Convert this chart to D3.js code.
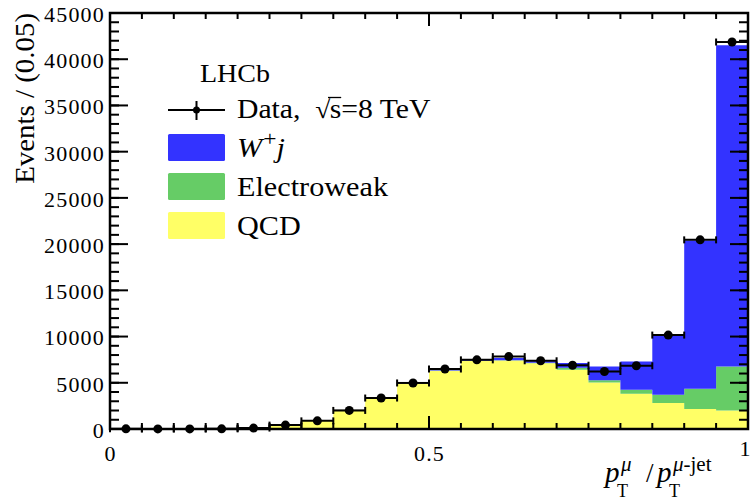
<!DOCTYPE html>
<html>
<head>
<meta charset="utf-8">
<script src="https://cdn.jsdelivr.net/npm/d3@7"></script>
<style>
    body { margin: 0; background: #fff; }
    svg text { font-family: "Liberation Serif", "Times New Roman", serif; fill: #000; }
</style>
</head>
<body>
<svg id="chart" width="755" height="501"></svg>
<script>
    // bins of p_T(mu) / p_T(mu-jet), width 0.05
    var binLo = [0.00, 0.05, 0.10, 0.15, 0.20, 0.25, 0.30, 0.35, 0.40, 0.45,
                 0.50, 0.55, 0.60, 0.65, 0.70, 0.75, 0.80, 0.85, 0.90, 0.95];
    var binWidth = 0.05;

    // stacked templates, bottom to top
    var qcd  = [0, 0, 0, 0, 80, 360, 900, 2100, 3350, 4950, 6300, 7350, 7400, 7120, 6400, 5040, 3820, 2810, 2160, 2010];
    var ewk  = [0, 0, 0, 0, 0, 0, 5, 10, 15, 20, 30, 40, 40, 50, 230, 220, 430, 900, 2200, 4760];
    var wjet = [0, 0, 0, 0, 0, 5, 15, 30, 40, 60, 100, 150, 240, 170, 510, 1510, 3060, 6490, 16040, 34730];

    // data points
    var data = [20, 10, 10, 15, 100, 420, 880, 2010, 3350, 4980, 6490, 7480, 7830, 7380, 6900, 6220, 6840, 10160, 20460, 41860];

    var yMajor = [0, 5000, 10000, 15000, 20000, 25000, 30000, 35000, 40000, 45000];
    var xMajor = [0, 0.5, 1];
    var xLabels = ["0", "0.5", "1"];

(function() {
    'use strict';

    var layers = [
        {key: "qcd", label: "QCD", color: "#ffff66"},
        {key: "ewk", label: "Electroweak", color: "#66cc66"},
        {key: "wjet", label: "W+j", color: "#3333ff"}
    ];

    var pLeft = 110, pRight = 748, pTop = 13, pBottom = 429;
    var x = d3.scaleLinear().domain([0, 1]).range([pLeft, pRight]);
    var y = d3.scaleLinear().domain([0, 45000]).range([pBottom, pTop]);

    var svg = d3.select("#chart");

    // text in the reference is a bit wider than Liberation Serif
    function wide(sel, k, ax) {
        sel.attr("transform", "translate(" + ax + ",0) scale(" + k + ",1) translate(" + (-ax) + ",0)");
        return sel;
    }

    // ---- stacked histogram
    var table = binLo.map(function(lo, i) {
        return {lo: lo, qcd: qcd[i], ewk: ewk[i], wjet: wjet[i]};
    });
    var stacked = d3.stack().keys(layers.map(function(l) { return l.key; }))(table);

    var area = d3.area()
        .x(function(p) { return x(p.x); })
        .y0(function(p) { return y(p.y0); })
        .y1(function(p) { return y(p.y1); });

    stacked.forEach(function(s, k) {
        var pts = [];
        s.forEach(function(d) {
            pts.push({x: d.data.lo, y0: d[0], y1: d[1]});
            pts.push({x: d.data.lo + binWidth, y0: d[0], y1: d[1]});
        });
        svg.append("path")
            .attr("d", area(pts))
            .attr("fill", layers[k].color)
            .attr("stroke", "none");
    });

    // ---- axes (ticks pointing inwards on all four sides)
    var gAxes = svg.append("g").attr("class", "axes");

    var yMinor = d3.range(0, 45001, 1000);
    var xMinor = d3.range(0, 1.0001, 0.05);

    function tickLines(g, vals, isX, pos, len) {
        g.selectAll(null).data(vals).enter().append("line")
            .attr("x1", function(v) { return isX ? x(v) : pos; })
            .attr("x2", function(v) { return isX ? x(v) : pos + len; })
            .attr("y1", function(v) { return isX ? pos : y(v); })
            .attr("y2", function(v) { return isX ? pos + len : y(v); })
            .attr("stroke", "#000")
            .attr("stroke-width", 2);
    }
    tickLines(gAxes, yMinor, false, pLeft, 9);
    tickLines(gAxes, yMajor, false, pLeft, 18);
    tickLines(gAxes, yMinor, false, pRight, -9);
    tickLines(gAxes, yMajor, false, pRight, -18);
    tickLines(gAxes, xMinor, true, pBottom, -6);
    tickLines(gAxes, xMajor, true, pBottom, -13);
    tickLines(gAxes, xMinor, true, pTop, 6);
    tickLines(gAxes, xMajor, true, pTop, 13);

    gAxes.append("rect")
        .attr("x", pLeft).attr("y", pTop)
        .attr("width", pRight - pLeft).attr("height", pBottom - pTop)
        .attr("fill", "none").attr("stroke", "#000").attr("stroke-width", 2.5);

    // tick labels via d3 axes, without their own lines
    var yAxis = d3.axisLeft(y).tickValues(yMajor).tickSize(0).tickPadding(5).tickFormat(d3.format("d"));
    var gy = svg.append("g").attr("transform", "translate(" + pLeft + ",0)").call(yAxis);
    gy.select(".domain").remove();
    gy.selectAll("text").attr("font-size", 22).attr("font-family", null).attr("dy", "0.38em")
        .attr("letter-spacing", 1.2);

    var xAxis = d3.axisBottom(x).tickValues(xMajor).tickSize(0).tickPadding(16)
        .tickFormat(function(d, i) { return xLabels[i]; });
    var gx = svg.append("g").attr("transform", "translate(0," + pBottom + ")").call(xAxis);
    gx.select(".domain").remove();
    gx.selectAll("text").attr("font-size", 22).attr("font-family", null).attr("letter-spacing", 1.2);
    gx.selectAll("text").filter(function(d) { return d === 1; }).attr("dx", -3).attr("y", 11);
    svg.selectAll(".tick text").attr("fill", "#000");

    // ---- data points with bin-width bars
    var gData = svg.append("g");
    binLo.forEach(function(lo, i) {
        var cy = y(data[i]);
        gData.append("line")
            .attr("x1", x(lo)).attr("x2", x(lo + binWidth))
            .attr("y1", cy).attr("y2", cy)
            .attr("stroke", "#000").attr("stroke-width", 2);
        [lo, lo + binWidth].forEach(function(e) {
            gData.append("line")
                .attr("x1", x(e)).attr("x2", x(e))
                .attr("y1", cy - 3.5).attr("y2", cy + 3.5)
                .attr("stroke", "#000").attr("stroke-width", 2);
        });
    });
    gData.selectAll("circle").data(binLo).enter().append("circle")
        .attr("cx", function(lo) { return x(lo + binWidth / 2); })
        .attr("cy", function(lo, i) { return y(data[i]); })
        .attr("r", 4.5)
        .attr("fill", "#000");

    // ---- legend
    var leg = svg.append("g");
    wide(leg.append("text").attr("x", 200).attr("y", 82).attr("font-size", 25).text("LHCb"), 1.12, 200);

    leg.append("line").attr("x1", 168).attr("x2", 225).attr("y1", 110).attr("y2", 110)
        .attr("stroke", "#000").attr("stroke-width", 2);
    leg.append("line").attr("x1", 196.5).attr("x2", 196.5).attr("y1", 101).attr("y2", 120)
        .attr("stroke", "#000").attr("stroke-width", 2);
    leg.append("circle").attr("cx", 196.5).attr("cy", 110).attr("r", 3.5).attr("fill", "#000");

    // "Data, sqrt(s)=8 TeV" in one widened group
    var gd = leg.append("g");
    var t0 = gd.append("text").attr("x", 237).attr("y", 118).attr("font-size", 27).text("Data,\u00a0\u00a0");
    var w0 = t0.node().getComputedTextLength();
    gd.append("text").attr("x", 237 + w0).attr("y", 118).attr("font-size", 25)
        .attr("font-family", "DejaVu Serif").text("\u221a");
    var sx = 237 + w0 + 13;
    gd.append("text").attr("x", sx).attr("y", 118).attr("font-size", 27).text("s=8 TeV");
    gd.append("line").attr("x1", sx - 1.5).attr("x2", sx + 10.5).attr("y1", 97.5).attr("y2", 97.5)
        .attr("stroke", "#000").attr("stroke-width", 1.3);
    wide(gd, 1.1, 237);

    var rows = [
        {label: "wjet", y: 134},
        {label: "ewk", y: 173},
        {label: "qcd", y: 212}
    ];
    rows.forEach(function(r) {
        var l = layers.filter(function(d) { return d.key === r.label; })[0];
        leg.append("rect").attr("x", 168).attr("y", r.y).attr("width", 57).attr("height", 27)
            .attr("rx", 1.5).attr("fill", l.color);
        var t = leg.append("text").attr("x", 237).attr("y", r.y + 23).attr("font-size", 27);
        if (r.label === "wjet") {
            t.append("tspan").attr("font-style", "italic").text("W");
            t.append("tspan").attr("font-size", 21).attr("dx", 1).attr("dy", -11).text("+");
            t.append("tspan").attr("font-style", "italic").attr("dy", 11).text("j");
        } else {
            t.text(l.label);
        }
        wide(t, 1.12, 237);
    });

    // ---- axis titles
    svg.append("text")
        .attr("transform", "translate(34," + pTop + ") rotate(-90) scale(1.07,1)")
        .attr("text-anchor", "end")
        .attr("font-size", 27)
        .text("Events / (0.05)");

    var xt = svg.append("g");
    xt.append("text").attr("x", 605).attr("y", 482).attr("font-size", 29).attr("font-style", "italic").text("p");
    xt.append("text").attr("x", 621).attr("y", 471).attr("font-size", 21).attr("font-style", "italic").text("\u03bc");
    xt.append("text").attr("x", 617).attr("y", 497).attr("font-size", 18).text("T");
    xt.append("text").attr("x", 646).attr("y", 482).attr("font-size", 27).text("/");
    xt.append("text").attr("x", 657).attr("y", 482).attr("font-size", 29).attr("font-style", "italic").text("p");
    var mj = xt.append("text").attr("x", 673).attr("y", 471).attr("font-size", 21);
    mj.append("tspan").attr("font-style", "italic").text("\u03bc");
    mj.append("tspan").text("-jet");
    xt.append("text").attr("x", 669).attr("y", 497).attr("font-size", 18).text("T");
})();
</script>
</body>
</html>
